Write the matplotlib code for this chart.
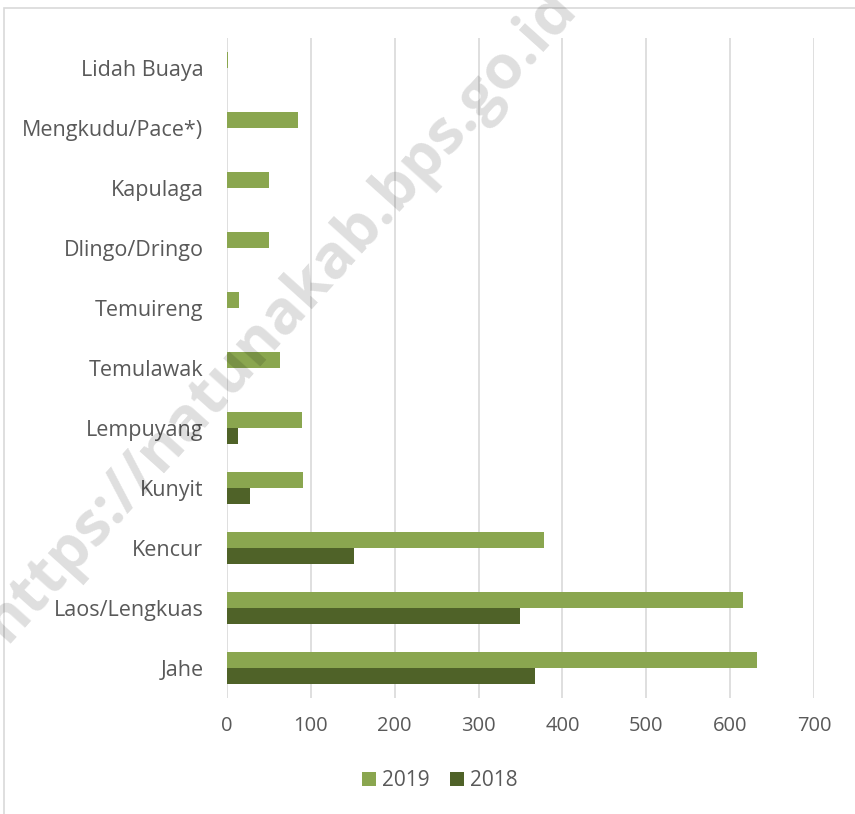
import matplotlib
matplotlib.use("Agg")
import matplotlib.pyplot as plt
import numpy as np
from matplotlib.patches import Rectangle

categories = ["Jahe", "Laos/Lengkuas", "Kencur", "Kunyit", "Lempuyang", "Temulawak",
              "Temuireng", "Dlingo/Dringo", "Kapulaga", "Mengkudu/Pace*)", "Lidah Buaya"]
values_2019 = [632, 615, 378, 91, 90, 63, 14, 50, 50, 85, 0.8]
values_2018 = [367, 349, 151, 27, 13, 0, 0, 0, 0, 0, 0]
xticks = [0, 100, 200, 300, 400, 500, 600, 700]

plt.rcParams['font.family'] = ['Open Sans', 'DejaVu Sans']

W, H = 855, 814
fig = plt.figure(figsize=(W/100, H/100), dpi=100)
ax = fig.add_axes([227/W, 1-698/H, (814-227)/W, (698-38)/H])

c19 = "#8aa64f"
c18 = "#4f6228"
y = np.arange(len(categories))
bh = 0.27
ax.barh(y + bh/2, values_2019, height=bh, color=c19, label="2019", zorder=3)
ax.barh(y - bh/2, values_2018, height=bh, color=c18, label="2018", zorder=3)

ax.set_xlim(0, 700)
ax.set_ylim(-0.5, len(categories)-0.5)
ax.set_xticks(xticks)
ax.set_xticklabels([str(t) for t in xticks])
ax.set_yticks(y)
ax.set_yticklabels(categories)
ax.tick_params(axis='both', length=0, labelcolor="#595959")
ax.tick_params(axis='x', pad=13, labelsize=14.5)
ax.tick_params(axis='y', pad=17, labelsize=15.5)
for s in ax.spines.values():
    s.set_visible(False)
ax.grid(axis='x', color="#d9d9d9", linewidth=1.2, zorder=0)
ax.set_axisbelow(True)

leg = fig.legend(loc="center", bbox_to_anchor=(440/W, 1-781/H), ncol=2, frameon=False,
                 fontsize=15, handlelength=0.65, handleheight=0.65, columnspacing=1.0,
                 handletextpad=0.3)
for t in leg.get_texts():
    t.set_color("#595959")

# outer chart border
fig.patches.append(Rectangle((4/W, -0.1), 1.2, 1-8/H+0.1, transform=fig.transFigure,
                             fill=False, edgecolor="#d9d9d9", linewidth=1.2))

# watermark
fig.text(280/W, 1-316/H, "https://natunakab.bps.go.id", rotation=48, ha="center", va="center",
         fontsize=44, fontweight="bold", color="black", alpha=0.13,
         family=["Open Sans", "DejaVu Sans"], zorder=10)

fig.savefig("out.png", dpi=100)
